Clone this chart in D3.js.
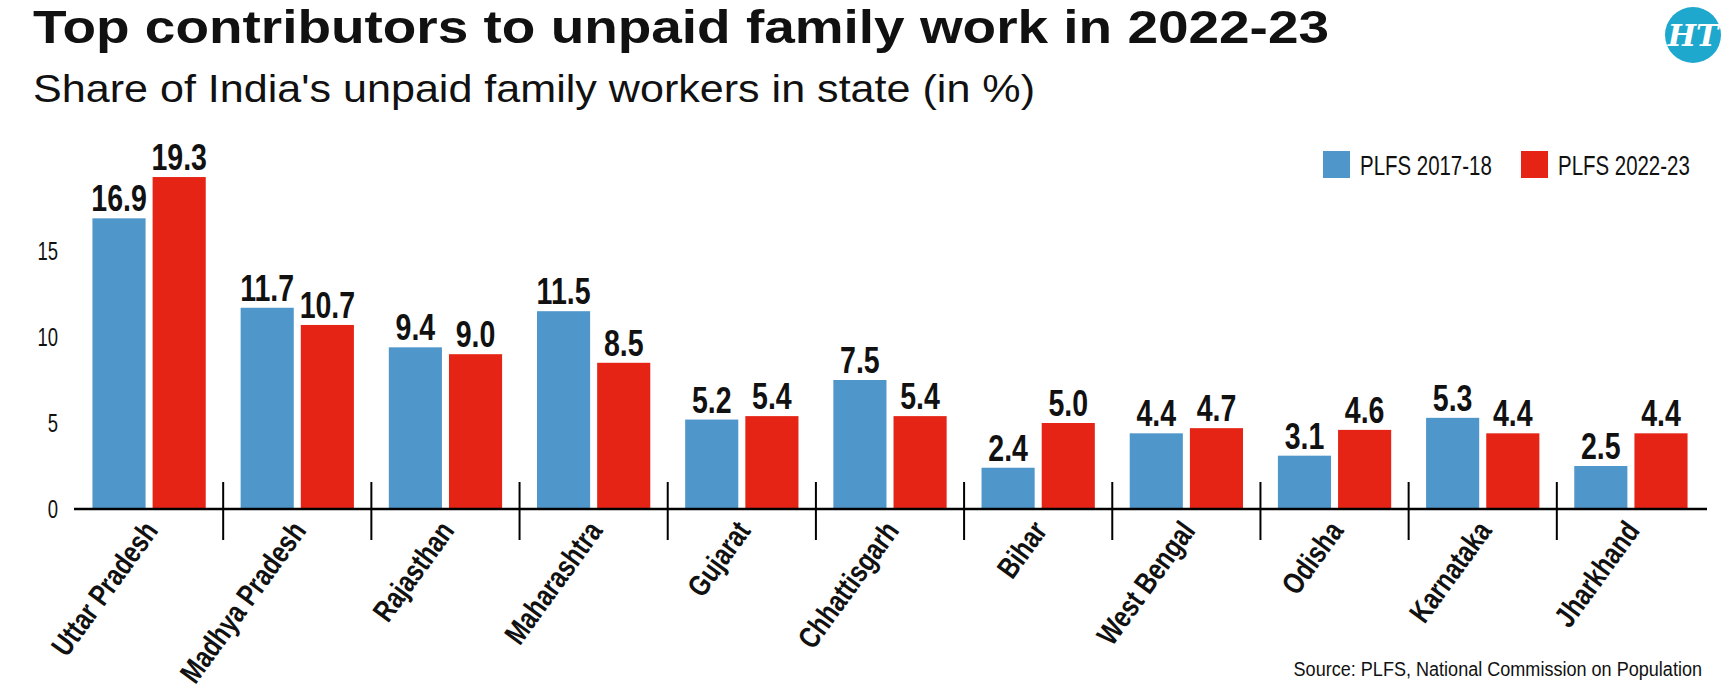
<!DOCTYPE html>
<meta charset="utf-8">
<style>
    body {
        margin: 0;
        background: #fff;
        font-family: "Liberation Sans", Arial, sans-serif;
    }

    svg {
        display: block;
    }

    text {
        fill: #111;
    }

    .title {
        font-weight: bold;
        font-size: 46px;
    }

    .subtitle {
        font-size: 38px;
    }

    .yLabel {
        font-size: 25px;
    }

    .legendText {
        font-size: 28px;
    }

    .valueLabel {
        font-weight: bold;
        font-size: 37px;
    }

    .xLabel {
        font-weight: bold;
        font-size: 30px;
    }

    .source {
        font-size: 21px;
    }
</style>

<body>
    <script src="https://d3js.org/d3.v7.min.js"></script>
    <script>

        var states = ["Uttar Pradesh", "Madhya Pradesh", "Rajasthan", "Maharashtra", "Gujarat",
            "Chhattisgarh", "Bihar", "West Bengal", "Odisha", "Karnataka", "Jharkhand"];
        var series = ["PLFS 2017-18", "PLFS 2022-23"];
        var plfs2017 = [16.9, 11.7, 9.4, 11.5, 5.2, 7.5, 2.4, 4.4, 3.1, 5.3, 2.5];
        var plfs2022 = [19.3, 10.7, 9.0, 8.5, 5.4, 5.4, 5.0, 4.7, 4.6, 4.4, 4.4];
        var yTicks = [0, 5, 10, 15];

        var width = 1732,
            height = 697;

        var colors = ["#4f96ca", "#e52416"];

        // no condensed face installed, so squeeze text horizontally
        var narrow = 0.77;

        var data = states.map(function (s, i) {
            return { state: s, values: [plfs2017[i], plfs2022[i]] };
        });

        var svg = d3.select("body")
            .append("svg")
            .attr("width", width)
            .attr("height", height);

        /* ------- TITLES -------*/

        svg.append("text")
            .attr("class", "title")
            .attr("x", 33)
            .attr("y", 43)
            .attr("textLength", 1296)
            .attr("lengthAdjust", "spacingAndGlyphs")
            .text("Top contributors to unpaid family work in 2022-23");

        svg.append("text")
            .attr("class", "subtitle")
            .attr("x", 33)
            .attr("y", 102)
            .attr("textLength", 1002)
            .attr("lengthAdjust", "spacingAndGlyphs")
            .text("Share of India's unpaid family workers in state (in %)");

        // HT logo
        var logo = svg.append("g").attr("transform", "translate(1693,35)");
        logo.append("circle").attr("r", 28).attr("fill", "#1fa8cd");
        logo.append("text")
            .attr("text-anchor", "middle")
            .attr("y", 11)
            .style("fill", "#fff")
            .style("font-family", "'DejaVu Serif', serif")
            .style("font-style", "italic")
            .style("font-weight", "bold")
            .style("font-size", "30px")
            .text("HT");

        /* ------- SCALES -------*/

        var x0 = d3.scaleBand()
            .domain(states)
            .range([75, 1705]);

        var x1 = d3.scaleBand()
            .domain(series)
            .range([0, x0.bandwidth()])
            .paddingInner(0.117)
            .paddingOuter(0.29);

        var y = d3.scaleLinear()
            .domain([0, 20])
            .range([509, 165]);

        /* ------- Y LABELS -------*/

        svg.append("g").selectAll("text")
            .data(yTicks)
            .enter()
            .append("text")
            .attr("class", "yLabel")
            .attr("text-anchor", "end")
            .attr("dy", "0.35em")
            .attr("transform", function (d) { return "translate(58," + y(d) + ") scale(0.74,1)"; })
            .text(function (d) { return d; });

        /* ------- BARS -------*/

        var groups = svg.append("g").selectAll("g")
            .data(data)
            .enter()
            .append("g")
            .attr("transform", function (d) { return "translate(" + x0(d.state) + ",0)"; });

        groups.selectAll("rect")
            .data(function (d) { return d.values.map(function (v, i) { return { key: series[i], value: v, i: i }; }); })
            .enter()
            .append("rect")
            .attr("x", function (d) { return x1(d.key); })
            .attr("y", function (d) { return y(d.value); })
            .attr("width", x1.bandwidth())
            .attr("height", function (d) { return y(0) - y(d.value); })
            .attr("fill", function (d) { return colors[d.i]; });

        groups.selectAll("text.valueLabel")
            .data(function (d) { return d.values.map(function (v, i) { return { key: series[i], value: v }; }); })
            .enter()
            .append("text")
            .attr("class", "valueLabel")
            .attr("text-anchor", "middle")
            .attr("transform", function (d) {
                return "translate(" + (x1(d.key) + x1.bandwidth() / 2) + "," + (y(d.value) - 7) + ") scale(" + narrow + ",1)";
            })
            .text(function (d) { return d.value.toFixed(1); });

        /* ------- AXIS -------*/

        svg.append("line")
            .attr("x1", 74)
            .attr("x2", 1707)
            .attr("y1", y(0))
            .attr("y2", y(0))
            .attr("stroke", "#000")
            .attr("stroke-width", 2.5);

        svg.append("g").selectAll("line")
            .data(states.slice(1))
            .enter()
            .append("line")
            .attr("x1", function (d) { return x0(d); })
            .attr("x2", function (d) { return x0(d); })
            .attr("y1", y(0) - 27)
            .attr("y2", y(0) + 31)
            .attr("stroke", "#000")
            .attr("stroke-width", 2);

        svg.append("g").selectAll("text")
            .data(states)
            .enter()
            .append("text")
            .attr("class", "xLabel")
            .attr("text-anchor", "end")
            .attr("transform", function (d) {
                return "translate(" + (x0(d) + x0.bandwidth() / 2 + 10) + "," + (y(0) + 22) + ") rotate(-54) scale(0.8,1)";
            })
            .text(function (d) { return d; });

        /* ------- LEGEND -------*/

        var legendX = [1323, 1521];
        var legend = svg.append("g").selectAll("g")
            .data(series)
            .enter()
            .append("g")
            .attr("transform", function (d, i) { return "translate(" + legendX[i] + ",151)"; });

        legend.append("rect")
            .attr("width", 27)
            .attr("height", 27)
            .attr("fill", function (d, i) { return colors[i]; });

        legend.append("text")
            .attr("class", "legendText")
            .attr("transform", "translate(37,24) scale(0.73,1)")
            .text(function (d) { return d; });

        /* ------- SOURCE -------*/

        svg.append("text")
            .attr("class", "source")
            .attr("text-anchor", "end")
            .attr("transform", "translate(1702,676) scale(0.86,1)")
            .text("Source: PLFS, National Commission on Population");

    </script>
</body>
